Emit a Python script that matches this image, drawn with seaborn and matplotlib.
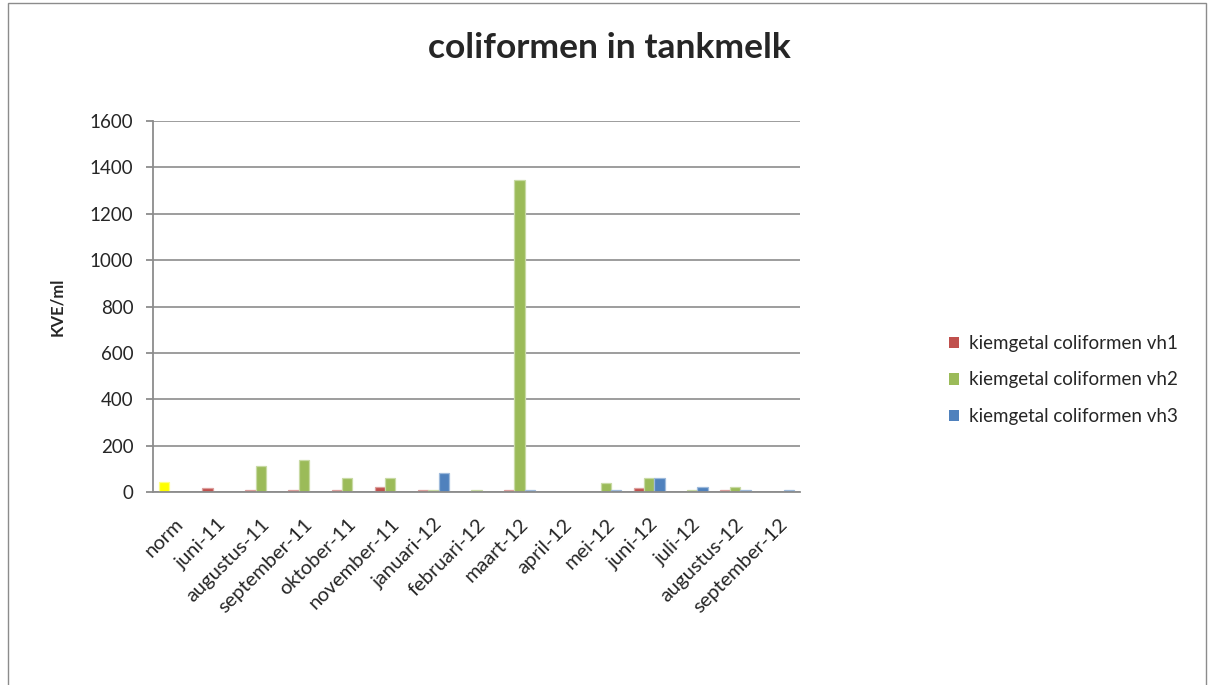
import numpy as np
import pandas as pd
import matplotlib
matplotlib.use('Agg')
import matplotlib.pyplot as plt
import matplotlib.colors as mcolors
import seaborn as sns
from matplotlib.patches import Rectangle

sns.set_style("white")
plt.rcParams['font.family'] = ['Lato', 'DejaVu Sans']

# data
months = ['norm', 'juni-11', 'augustus-11', 'september-11', 'oktober-11', 'november-11',
          'januari-12', 'februari-12', 'maart-12', 'april-12', 'mei-12', 'juni-12',
          'juli-12', 'augustus-12', 'september-12']
vh1 = [45, 17, 9, 9, 9, 23, 9, np.nan, 9, np.nan, np.nan, 16, np.nan, 8, np.nan]
vh2 = [np.nan, np.nan, 110, 138, 60, 60, 9, 9, 1345, np.nan, 38, 60, 8, 22, np.nan]
vh3 = [np.nan, np.nan, np.nan, np.nan, np.nan, np.nan, 81, np.nan, 9, np.nan, 9, 60, 22, 8, 8]
series = ['kiemgetal coliformen vh1', 'kiemgetal coliformen vh2', 'kiemgetal coliformen vh3']
colors = ['#C0504D', '#9BBB59', '#4F81BD']

df = pd.DataFrame({
    'maand': months * 3,
    'waarde': vh1 + vh2 + vh3,
    'reeks': [series[0]] * len(months) + [series[1]] * len(months) + [series[2]] * len(months),
})

fig = plt.figure(figsize=(12.1, 6.85), dpi=100)
ax = fig.add_axes([153 / 1210, 1 - 492 / 685, (800 - 153) / 1210, (492 - 121) / 685])

sns.barplot(data=df, x='maand', y='waarde', hue='reeks', order=months, hue_order=series,
            palette=colors, width=0.72, ax=ax, saturation=1, legend=True)

# lichte rand om de balken, norm-balk geel
for p in ax.patches:
    fc = np.array(mcolors.to_rgb(p.get_facecolor()))
    p.set_edgecolor(tuple(fc + (1 - fc) * 0.45))
    p.set_linewidth(0.9)
norm_bar = ax.patches[0]
norm_bar.set_facecolor('#FFFF00')
norm_bar.set_edgecolor('#FFFF80')

ax.set_ylim(0, 1600)
ax.set_yticks(range(0, 1601, 200))
ax.set_xlim(-0.5, len(months) - 0.5)
ax.yaxis.grid(True, color='#8C8C8C', linewidth=1.2)
ax.set_axisbelow(True)
for s in ['top', 'right']:
    ax.spines[s].set_visible(False)
for s in ['left', 'bottom']:
    ax.spines[s].set_color('#8C8C8C')
    ax.spines[s].set_linewidth(1.3)

ax.set_xticks(range(len(months)))
ax.set_xticklabels(months, rotation=45, ha='right', rotation_mode='anchor', fontsize=14.5)
ax.set_xticks(np.arange(-0.5, len(months), 1), minor=True)
ax.tick_params(axis='x', which='major', length=0, pad=17)
ax.tick_params(axis='x', which='minor', length=5, color='#8C8C8C', width=1.3)
ax.tick_params(axis='y', length=5, color='#8C8C8C', width=1.3, labelsize=13.5, left=True, pad=9)
ax.set_xlabel('')
ax.set_ylabel('KVE/ml', fontsize=12, fontweight='bold', labelpad=18)

fig.text(609 / 1210, 1 - 48 / 685, 'coliformen in tankmelk', ha='center', va='center',
         fontsize=25.5, fontweight='bold')

leg = ax.legend(loc='center left', bbox_to_anchor=(932 / 1210, 1 - 380 / 685),
                bbox_transform=fig.transFigure, frameon=False, fontsize=13.5,
                handlelength=0.55, handleheight=0.55, labelspacing=1.05, handletextpad=0.5)
for h in leg.legend_handles:
    h.set_edgecolor('none')

fig.patches.append(Rectangle((8 / 1210, -0.01), 1198 / 1210, 1 - 3 / 685 + 0.01,
                             transform=fig.transFigure, fill=False,
                             edgecolor='#8C8C8C', linewidth=1))

fig.savefig('out.png', dpi=100)
